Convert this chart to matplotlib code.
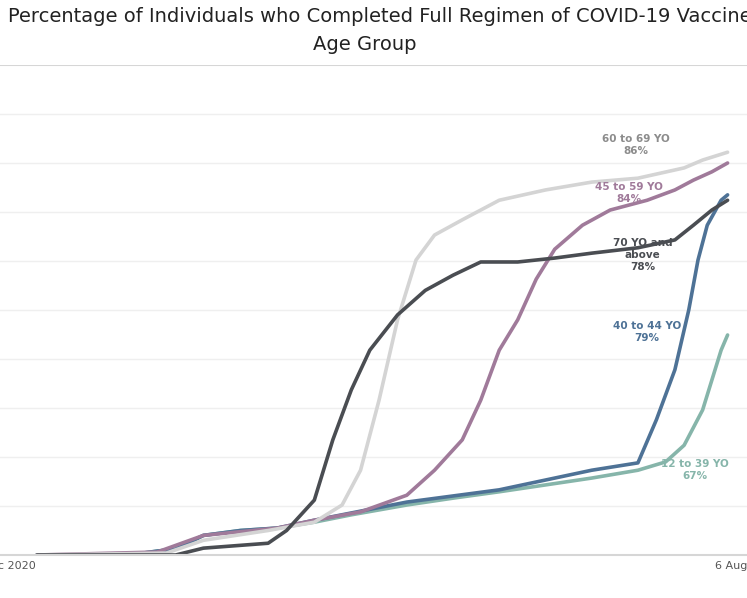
import matplotlib.pyplot as plt
import numpy as np

# 各年龄组曲线（x为时间轴位置，y为完成全程接种百分比）
teal_x = [0, 100, 130, 150, 180, 220, 260, 300, 340, 400, 450, 500, 550, 600, 650, 680, 700, 720, 740, 747]
teal_y = [0, 0, 0.8, 1.2, 4, 5, 5.5, 6.7, 8.2, 10.2, 11.6, 12.9, 14.3, 15.7, 17.3, 19, 22.4, 29.6, 41.8, 44.9]
blue_x = [0, 100, 130, 150, 180, 220, 260, 300, 400, 500, 600, 650, 670, 690, 705, 715, 725, 740, 747]
blue_y = [0, 0, 0.8, 1.2, 4, 5, 5.5, 7.1, 10.8, 13.3, 17.3, 18.8, 27.6, 37.8, 50, 60.2, 67.3, 72.4, 73.5]
purple_x = [0, 130, 180, 260, 300, 350, 400, 430, 460, 480, 500, 520, 540, 560, 590, 620, 660, 690, 710, 730, 747]
purple_y = [0, 0.6, 4, 5.5, 7.1, 8.8, 12.2, 17.3, 23.5, 31.6, 41.8, 48, 56.3, 62.4, 67.3, 70.4, 72.4, 74.5, 76.5, 78.2, 80]
gray_x = [0, 140, 180, 250, 300, 330, 350, 370, 390, 410, 430, 460, 500, 550, 600, 650, 700, 720, 747]
gray_y = [0, 0.4, 3, 5, 6.7, 10.2, 17.3, 31.6, 48, 60.2, 65.3, 68.4, 72.4, 74.5, 76.1, 76.9, 79, 80.6, 82.2]
dark_x = [0, 150, 180, 250, 270, 300, 320, 340, 360, 390, 420, 450, 480, 520, 560, 600, 650, 690, 710, 730, 747]
dark_y = [0, 0, 1.4, 2.4, 5, 11.2, 23.5, 33.7, 41.8, 49, 54, 57.1, 59.8, 59.8, 60.6, 61.6, 62.7, 64.3, 67.3, 70.4, 72.4]

fig = plt.figure(figsize=(7.47, 5.98), dpi=100)
ax = fig.add_axes([0, 43 / 598, 1, 490 / 598])

# 网格线
for g in np.arange(10, 100, 10):
    ax.axhline(g, color='#efefef', lw=1, zorder=0)
ax.axhline(100, color='#d6d6d6', lw=1.5, zorder=0)

ax.plot(teal_x, teal_y, color='#86b5aa', lw=2.6, solid_capstyle='round')
ax.plot(blue_x, blue_y, color='#4e7296', lw=2.6, solid_capstyle='round')
ax.plot(purple_x, purple_y, color='#a07a9a', lw=2.6, solid_capstyle='round')
ax.plot(gray_x, gray_y, color='#d4d4d4', lw=2.6, solid_capstyle='round')
ax.plot(dark_x, dark_y, color='#4a4d52', lw=2.6, solid_capstyle='round')

# 标签
lab = dict(ha='center', va='center', fontsize=7.5, fontweight='bold', linespacing=1.3)
ax.text(648, (555 - 145) / 4.9, "60 to 69 YO\n86%", color='#8c8c8c', **lab)
ax.text(640, (555 - 193) / 4.9, "45 to 59 YO\n84%", color='#a07a9a', **lab)
ax.text(655, (555 - 255) / 4.9, "70 YO and\nabove\n78%", color='#4a4d52', **lab)
ax.text(660, (555 - 332) / 4.9, "40 to 44 YO\n79%", color='#4e7296', **lab)
ax.text(712, (555 - 470) / 4.9, "12 to 39 YO\n67%", color='#86b5aa', **lab)

ax.set_xlim(0, 747)
ax.set_ylim(0, 100)
ax.set_yticks([])
ax.set_xticks([-40, 768])
ax.set_xticklabels(["31 Dec 2020", "6 Aug 2021"], fontsize=8, color='#555555')
ax.tick_params(axis='x', length=0, pad=4)
for s in ['top', 'left', 'right']:
    ax.spines[s].set_visible(False)
ax.spines['bottom'].set_color('#d6d6d6')
ax.spines['bottom'].set_linewidth(1.5)

fig.text(8 / 747, 1 - 17 / 598, "Percentage of Individuals who Completed Full Regimen of COVID-19 Vaccine by",
         ha='left', va='center', fontsize=14, color='#222222')
fig.text(365 / 747, 1 - 44 / 598, "Age Group", ha='center', va='center', fontsize=14, color='#222222')

plt.savefig("out.png", dpi=100)
